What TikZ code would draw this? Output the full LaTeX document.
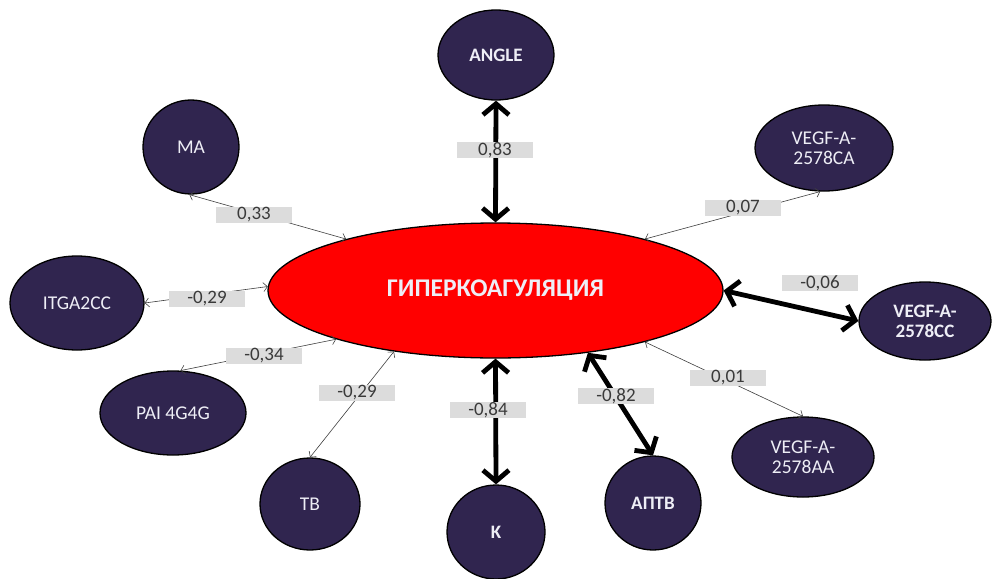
\documentclass[tikz,border=0pt]{standalone}
\usepackage{fontspec}
\setmainfont{Carlito}
\usetikzlibrary{shapes.geometric,arrows.meta}
\definecolor{nodefill}{HTML}{30254F}
\definecolor{hypred}{HTML}{FF0000}
\definecolor{labgray}{HTML}{DCDCDC}
\definecolor{labtext}{HTML}{3A3A3A}
\definecolor{nodetext}{HTML}{EEEEF6}
\begin{document}
\begin{tikzpicture}[x=1pt,y=-1pt,
  var/.style={ellipse,draw=black,line width=1.3pt,fill=nodefill,text=nodetext,inner sep=0pt,align=center,font=\fontsize{19.5}{20}\selectfont},
  varb/.style={var,font=\bfseries\fontsize{19}{20}\selectfont},
  hyp/.style={ellipse,draw=black,line width=1.3pt,fill=hypred,text=nodetext,inner sep=0pt,font=\bfseries\fontsize{25.5}{27}\selectfont},
  thinedge/.style={draw=black!75,line width=0.6pt,arrows={Straight Barb[length=4pt,width=9pt]-Straight Barb[length=4pt,width=9pt]}},
  thickedge/.style={draw=black,line width=4.8pt,arrows={Straight Barb[length=11pt,width=26pt]-Straight Barb[length=11pt,width=26pt]}},
  lab/.style={fill=labgray,text=labtext,minimum width=76pt,minimum height=16pt,inner sep=0pt,font=\fontsize{19}{16}\selectfont}
]
\fill[white] (0,0) rectangle (992,578);
\useasboundingbox (0,0) rectangle (992,578);

\node[hyp,minimum width=455pt,minimum height=135pt] (h) at (495.5,290.5) {ГИПЕРКОАГУЛЯЦИЯ};

\node[varb,minimum width=116pt,minimum height=90pt] (angle) at (496,55) {ANGLE};
\node[var,minimum width=96pt,minimum height=94pt] (ma) at (191,147) {MA};
\node[var,minimum width=138pt,minimum height=86pt] (ca) at (824,148) {VEGF-A-\\2578CA};
\node[var,minimum width=134pt,minimum height=94pt] (itga) at (77,303) {ITGA2CC};
\node[varb,minimum width=132pt,minimum height=78pt] (cc) at (925,321) {VEGF-A-\\2578CC};
\node[var,minimum width=146pt,minimum height=84pt] (pai) at (173,413) {PAI 4G4G};
\node[var,minimum width=142pt,minimum height=80pt] (aa) at (803,457) {VEGF-A-\\2578AA};
\node[var,minimum width=100pt,minimum height=92pt] (tb) at (310,504) {TB};
\node[varb,minimum width=98pt,minimum height=94pt] (k) at (496,532) {K};
\node[varb,minimum width=96pt,minimum height=94pt] (aptb) at (653,503) {АПТВ};

\draw[thickedge] (h.north) -- (angle.south);
\draw[thickedge] (h.south) -- (k.north);
\draw[thickedge] (h.326) -- (aptb.north);
\draw[thickedge] (h.east) -- (cc.west);

\draw[thinedge] (h.161) -- (ma.268);
\draw[thinedge] (h.19) -- (ca.265);
\draw[thinedge] (h.179) -- (itga.east);
\draw[thinedge] (h.197.5) -- (pai.80);
\draw[thinedge] (h.211.4) -- (tb.north);
\draw[thinedge] (h.341.6) -- (aa.north);

\node[lab] (l1) at (495,150) {0,83};
\node[lab] (l2) at (254,215) {0,33};
\node[lab] (l3) at (743,208) {0,07};
\node[lab] (l4) at (207,299) {-0,29};
\node[lab] (l5) at (264,356) {-0,34};
\node[lab] (l6) at (820,283) {-0,06};
\node[lab] (l7) at (728,378) {0,01};
\node[lab] (l8) at (357,393) {-0,29};
\node[lab] (l9) at (488,410) {-0,84};
\node[lab] (l10) at (616,396) {-0,82};
\end{tikzpicture}
\end{document}
